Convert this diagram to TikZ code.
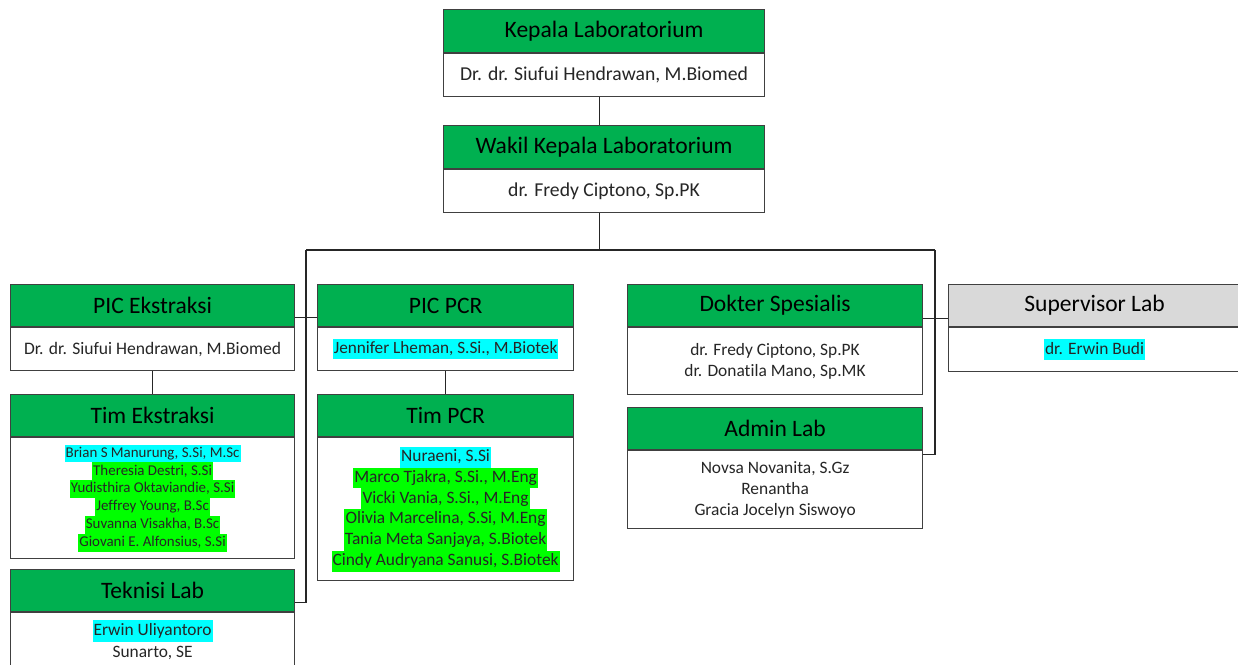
\documentclass[tikz,border=0pt]{standalone}
\usepackage{fontspec}
\setmainfont{Carlito}[Ligatures=NoCommon]
\usepackage{xcolor}
\usepackage{tikz}
\usetikzlibrary{positioning,calc}
\definecolor{hdrgreen}{HTML}{00B050}
\definecolor{hdrgray}{HTML}{D9D9D9}
\definecolor{boxline}{HTML}{404040}
\definecolor{hlcyan}{HTML}{00FFFF}
\definecolor{hlgreen}{HTML}{00FF00}
\newcommand{\hlc}[2]{{\setlength{\fboxsep}{0pt}\colorbox{#1}{\strut\kern0.6pt#2\kern0.6pt}}}
\tikzset{
  hdr/.style={draw=boxline, fill=hdrgreen, line width=0.7pt, inner sep=0pt, anchor=north west,
    minimum height=0.84cm, font=\fontsize{13.4}{16}\selectfont},
  bdy/.style={draw=boxline, fill=white, line width=0.7pt, inner sep=0pt, align=center, text=black!85},
  conn/.style={draw=black!85, line width=0.6pt},
}

\begin{document}
\begin{tikzpicture}[x=0.02cm, y=-0.02cm]
\clip (0,0) rectangle (1238,665);
\node[hdr, minimum width=6.42cm, minimum height=0.86cm] (kepH) at (443,9) {Kepala Laboratorium};
\node[bdy, minimum width=6.42cm, minimum height=0.86cm, below=0pt of kepH, font=\fontsize{11.2}{13.5}\selectfont] (kepB) {Dr. dr. Siufui Hendrawan, M.Biomed};
\node[hdr, minimum width=6.42cm, minimum height=0.86cm] (wakH) at (443,125) {Wakil Kepala Laboratorium};
\node[bdy, minimum width=6.42cm, minimum height=0.86cm, below=0pt of wakH, font=\fontsize{11.2}{13.5}\selectfont] (wakB) {dr. Fredy Ciptono, Sp.PK};

\node[hdr, minimum width=5.68cm] (picEH) at (10,284) {PIC Ekstraksi};
\node[bdy, minimum width=5.68cm, minimum height=0.86cm, below=0pt of picEH, font=\fontsize{10}{12}\selectfont] (picEB) {Dr. dr. Siufui Hendrawan, M.Biomed};
\node[hdr, minimum width=5.68cm] (timEH) at (10,394) {Tim Ekstraksi};
\node[bdy, minimum width=5.68cm, minimum height=2.42cm, below=0pt of timEH, font=\fontsize{8.5}{10.2}\selectfont] (timEB) {\hlc{hlcyan}{Brian S Manurung, S.Si, M.Sc}\\
  \hlc{hlgreen}{Theresia Destri, S.Si}\\
  \hlc{hlgreen}{Yudisthira Oktaviandie, S.Si}\\
  \hlc{hlgreen}{Jeffrey Young, B.Sc}\\
  \hlc{hlgreen}{Suvanna Visakha, B.Sc}\\
  \hlc{hlgreen}{Giovani E. Alfonsius, S.Si}};
\node[hdr, minimum width=5.68cm] (tekH) at (10,569) {Teknisi Lab};
\node[bdy, minimum width=5.68cm, minimum height=1.16cm, below=0pt of tekH, font=\fontsize{9.9}{12.5}\selectfont] (tekB) {\hlc{hlcyan}{Erwin Uliyantoro}\\ \strut Sunarto, SE};

\node[hdr, minimum width=5.12cm] (picPH) at (317,284) {PIC PCR};
\node[bdy, minimum width=5.12cm, minimum height=0.86cm, below=0pt of picPH, font=\fontsize{9.8}{11.3}\selectfont] (picPB) {\hlc{hlcyan}{Jennifer Lheman, S.Si., M.Biotek}};
\node[hdr, minimum width=5.12cm] (timPH) at (317,394) {Tim PCR};
\node[bdy, minimum width=5.12cm, minimum height=2.86cm, below=0pt of timPH, font=\fontsize{9.9}{11.9}\selectfont] (timPB) {\hlc{hlcyan}{Nuraeni, S.Si}\\
  \hlc{hlgreen}{Marco Tjakra, S.Si., M.Eng}\\
  \hlc{hlgreen}{Vicki Vania, S.Si., M.Eng}\\
  \hlc{hlgreen}{Olivia Marcelina, S.Si, M.Eng}\\
  \hlc{hlgreen}{Tania Meta Sanjaya, S.Biotek}\\
  \hlc{hlgreen}{Cindy Audryana Sanusi, S.Biotek}};

\node[hdr, minimum width=5.9cm] (dokH) at (627,284) {Dokter Spesialis};
\node[bdy, minimum width=5.9cm, minimum height=1.34cm, below=0pt of dokH, font=\fontsize{9.9}{11.9}\selectfont] (dokB) {dr. Fredy Ciptono, Sp.PK\\ dr. Donatila Mano, Sp.MK};
\node[hdr, minimum width=5.9cm] (admH) at (627,407) {Admin Lab};
\node[bdy, minimum width=5.9cm, minimum height=1.56cm, below=0pt of admH, font=\fontsize{9.9}{11.9}\selectfont] (admB) {Novsa Novanita, S.Gz\\ Renantha\\ Gracia Jocelyn Siswoyo};

\node[hdr, fill=hdrgray, minimum width=5.84cm] (supH) at (948,284) {Supervisor Lab};
\node[bdy, minimum width=5.84cm, minimum height=0.88cm, below=0pt of supH, font=\fontsize{9.9}{11.9}\selectfont] (supB) {\hlc{hlcyan}{dr. Erwin Budi}};

\coordinate (busL) at (306,250);
\coordinate (busR) at (935,250);
\draw[conn] ([xshift=-0.09cm]kepB.south) -- ([xshift=-0.09cm]wakH.north);
\draw[conn] ([xshift=-0.09cm]wakB.south) -- ([xshift=-0.09cm]wakB.south |- busL);
\draw[conn] (busL) -- (busR);
\draw[conn] (busL) |- ([yshift=-0.24cm]tekH.east);
\draw[conn] (busR) |- ([yshift=-0.08cm]admB.north east);
\draw[conn] ([yshift=-0.24cm]picEH.east) -- ([yshift=-0.24cm]picPH.west);
\draw[conn] ([yshift=-0.26cm]dokH.east) -- ([yshift=-0.26cm]supH.west);
\draw[conn] (picEB.south) -- (timEH.north);
\draw[conn] (picPB.south) -- (timPH.north);
\end{tikzpicture}
\end{document}
